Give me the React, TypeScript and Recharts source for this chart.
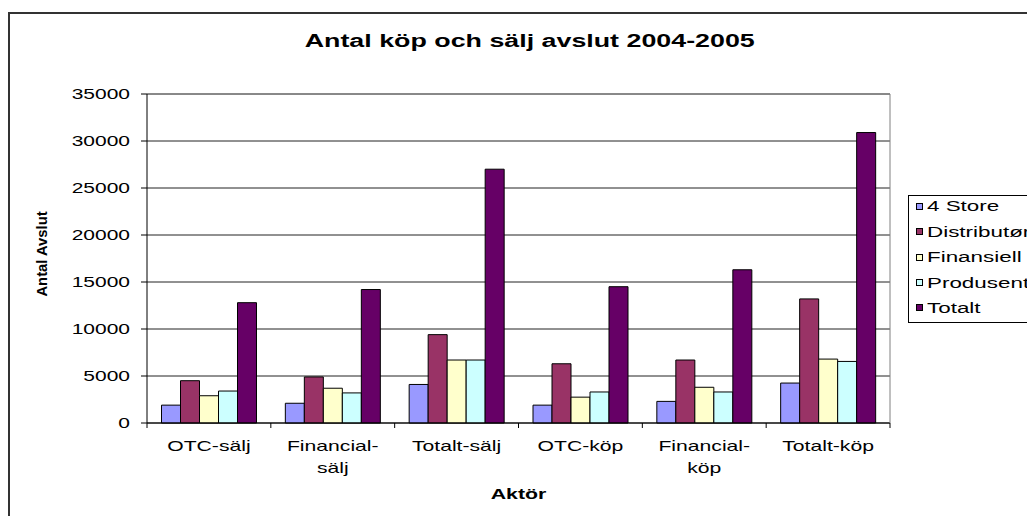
import React from 'react';
import { BarChart, Bar, XAxis, YAxis, CartesianGrid, Legend, ReferenceLine } from 'recharts';

// Antal köp och sälj avslut 2004-2005, per aktör
const categories = ['OTC-sälj', 'Financial-\nsälj', 'Totalt-sälj', 'OTC-köp', 'Financial-\nköp', 'Totalt-köp'];
const fourStore = [1900, 2100, 4100, 1900, 2300, 4250];
const distributor = [4500, 4900, 9400, 6300, 6700, 13200];
const finansiell = [2900, 3700, 6700, 2750, 3800, 6800];
const produsent = [3400, 3200, 6700, 3300, 3300, 6550];
const totalt = [12800, 14200, 27000, 14500, 16300, 30900];
const yTicks = [0, 5000, 10000, 15000, 20000, 25000, 30000, 35000];

const seriesNames = ['4 Store', 'Distributør', 'Finansiell', 'Produsent', 'Totalt'];
const seriesColors = ['#9999FF', '#993366', '#FFFFCC', '#CCFFFF', '#660066'];
const seriesValues = [fourStore, distributor, finansiell, produsent, totalt];

const data = categories.map((c, i) => {
  const row: Record<string, string | number> = { aktor: c };
  seriesNames.forEach((s, k) => { row[s] = seriesValues[k][i]; });
  return row;
});

const FONT = '"Liberation Sans", Arial, Helvetica, sans-serif';

const YTick = (props: any) => {
  const { x, y, payload } = props;
  return (
    <text transform={`translate(${x},${y + 5.3}) scale(1.4,1)`} textAnchor="end" fontFamily={FONT} fontSize={15} fill="#000">
      {payload.value}
    </text>
  );
};

// category label plus the Excel-style tick marks between categories
const XTick = (props: any) => {
  const { x, y, payload, index, visibleTicksCount } = props;
  const lines = String(payload.value).split('\n');
  const half = payload.offset || 0;
  const isLast = index === (visibleTicksCount || categories.length) - 1;
  return (
    <g>
      {half > 0 && <line x1={x - half} y1={y} x2={x - half} y2={y + 5} stroke="#000" />}
      {half > 0 && isLast && <line x1={x + half} y1={y} x2={x + half} y2={y + 5} stroke="#000" />}
      {lines.map((l, i) => (
        <text key={i} transform={`translate(${x},${y + 27.5 + i * 22.3}) scale(1.41,1)`} textAnchor="middle" fontFamily={FONT} fontSize={15} fill="#000">
          {l}
        </text>
      ))}
    </g>
  );
};

const XLabel = (props: any) => {
  const vb = props.viewBox;
  return (
    <text transform={`translate(${vb.x + vb.width / 2},${vb.y + 76.3}) scale(1.42,1)`} textAnchor="middle" fontFamily={FONT} fontSize={15} fontWeight="bold" fill="#000">
      Aktör
    </text>
  );
};

const YLabel = (props: any) => {
  const vb = props.viewBox;
  return (
    <text transform={`translate(${vb.x - 40.3},${vb.y + vb.height / 2 - 4.5}) scale(1.05,1) rotate(-90)`} textAnchor="middle" fontFamily={FONT} fontSize={14.8} fontWeight="bold" fill="#000">
      Antal Avslut
    </text>
  );
};

const LegendBox = (props: any) => {
  const items = props.payload || [];
  return (
    <div style={{ width: 300, height: 128, borderLeft: '1px solid #000', borderTop: '1px solid #000', borderBottom: '1px solid #000', background: '#fff', boxSizing: 'border-box' }}>
      <div style={{ position: 'relative', top: -2 }}>
        {items.map((it: any) => (
          <div key={it.value} style={{ height: 25.4, display: 'flex', alignItems: 'center', position: 'relative' }}>
            <span style={{ position: 'absolute', left: 6.5, width: 7, height: 7, border: '1px solid #000', background: it.color, boxSizing: 'border-box' }} />
            <span style={{ position: 'absolute', left: 17.5, fontFamily: FONT, fontSize: 14, color: '#000', transform: 'scaleX(1.6)', transformOrigin: 'left center', whiteSpace: 'nowrap', lineHeight: '16px' }}>
              {it.value}
            </span>
          </div>
        ))}
      </div>
    </div>
  );
};

export default function App() {
  return (
    <div style={{ position: 'relative', width: 1027, height: 508, overflow: 'hidden', background: '#fff' }}>
      <div style={{ position: 'absolute', left: 0, top: 4, width: 1200, height: 700, borderLeft: '2px solid #333', borderTop: '2px solid #333' }} />
      <div style={{ position: 'absolute', left: 0, top: 0 }}>
        <BarChart width={1027} height={508} data={data} margin={{ top: 86, right: 14, bottom: 63, left: 79 }} barCategoryGap={14.5} barGap={0}>
          <CartesianGrid vertical={false} stroke="#222" />
          <XAxis dataKey="aktor" tick={<XTick />} tickLine={false} tickSize={0} tickMargin={0} height={30} interval={0} axisLine={{ stroke: '#000' }} label={<XLabel />} />
          <YAxis domain={[0, 35000]} ticks={yTicks} tick={<YTick />} tickSize={6} tickMargin={11} width={60} interval={0} axisLine={{ stroke: '#000' }} tickLine={{ stroke: '#000' }} label={<YLabel />} />
          <YAxis yAxisId="border" orientation="right" domain={[0, 35000]} width={1} tick={false} tickLine={false} axisLine={{ stroke: '#808080' }} />
          <ReferenceLine y={35000} stroke="#808080" />
          {seriesNames.map((s, k) => (
            <Bar key={s} dataKey={s} fill={seriesColors[k]} stroke="#000" strokeWidth={1} isAnimationActive={false} />
          ))}
          <Legend layout="vertical" align="right" verticalAlign="middle" content={<LegendBox />} wrapperStyle={{ left: 900, top: 186.7, width: 130, right: 'auto', overflow: 'visible' }} />
        </BarChart>
      </div>
      <svg style={{ position: 'absolute', left: 0, top: 0, pointerEvents: 'none' }} width={1027} height={60}>
        <text transform="translate(521.7,38.7) scale(1.45,1)" textAnchor="middle" fontFamily={FONT} fontSize={18.5} fontWeight="bold" fill="#000">
          Antal köp och sälj avslut 2004-2005
        </text>
      </svg>
    </div>
  );
}
